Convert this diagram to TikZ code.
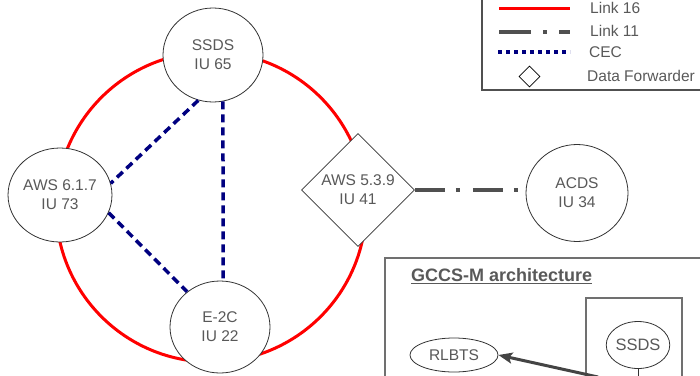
\documentclass[tikz,border=0pt]{standalone}
\usepackage{fontspec}
\setmainfont{Liberation Sans}
\usetikzlibrary{shapes.geometric,arrows.meta}
\definecolor{txt}{HTML}{595959}
\definecolor{edgec}{HTML}{333333}
\definecolor{boxc}{HTML}{707070}
\definecolor{navyc}{HTML}{000080}
\definecolor{lkc}{HTML}{505050}
\definecolor{arrc}{HTML}{444444}
\begin{document}
\begin{tikzpicture}[x=1pt,y=-1pt,
  font=\fontsize{15.5}{19}\selectfont,
  unit/.style={ellipse, draw=edgec, line width=0.8pt, fill=white, inner sep=0pt, align=center, text=txt},
  fwd/.style={diamond, draw=edgec, line width=0.8pt, fill=white, inner sep=0pt, aspect=1, align=center, text=txt},
  linksixteen/.style={red, line width=3pt},
  linkeleven/.style={lkc, line width=4.5pt, dash pattern=on 30pt off 11pt on 4pt off 13pt},
  cecline/.style={navyc, line width=3.5pt, dash pattern=on 8pt off 5pt},
  cecleg/.style={navyc, line width=4pt, dash pattern=on 4pt off 4pt},
  legtext/.style={anchor=west, text=txt, inner sep=0pt},
  framebox/.style={draw=boxc, line width=1.2pt},
  bigarrow/.style={arrc, line width=3pt, -{Stealth[length=14pt,width=11pt,inset=3pt]}}
]
\useasboundingbox (0,0) rectangle (700,375);

% Link 16 ring
\draw[linksixteen] (211,207) circle[radius=155pt];

% units
\node[unit, minimum width=100pt, minimum height=94pt] (ssds) at (213,55) {SSDS\\IU 65};
\node[unit, minimum width=99pt, minimum height=94pt] (aws617) at (60,195) {AWS 6.1.7\\IU 73};
\node[unit, minimum width=100pt, minimum height=92pt] (e2c) at (220,327) {E-2C\\IU 22};
\node[fwd, minimum width=113pt, minimum height=113pt] (aws539) at (358,190) {AWS 5.3.9\\IU 41};
\node[unit, minimum width=102pt, minimum height=97pt] (acds) at (577,193) {ACDS\\IU 34};

% CEC links
\draw[cecline] (ssds.252) -- (aws617.13);
\draw[cecline] (ssds.282) -- (e2c.86);
\draw[cecline] (aws617.340) -- (e2c.133);

% Link 11
\draw[linkeleven] (aws539.east) -- (aws539.east -| acds.west);

% Legend
\draw[framebox, draw=lkc] (482,-5) rectangle (712,90);
\coordinate (l16a) at (499,8);
\coordinate (l16b) at (570,8);
\draw[linksixteen] (l16a) -- (l16b);
\node[legtext] (l16t) at (590,8) {Link 16};
\coordinate (l11a) at (499,32);
\coordinate (l11b) at (570,32);
\draw[linkeleven, dash pattern=on 32pt off 12pt on 4pt off 12pt] (l11a) -- (l11b);
\node[legtext] (l11t) at (590,31) {Link 11};
\coordinate (ceca) at (498,52);
\coordinate (cecb) at (570,52);
\draw[cecleg] (ceca) -- (cecb);
\node[legtext] (cect) at (589,52) {CEC};
\node[diamond, draw=black, line width=0.8pt, minimum width=21pt, minimum height=21pt, inner sep=0pt, aspect=1] (legdia) at (529.5,76.5) {};
\node[legtext] (dft) at (587,75.5) {Data Forwarder};

% GCCS-M architecture inset
\draw[framebox] (385,258) rectangle (712,385);
\node[anchor=west, text=txt, inner sep=0pt, font=\fontsize{18}{20}\selectfont\bfseries] (title) at (411,276) {\underline{GCCS-M architecture}};
\draw[framebox] (586,298) rectangle (682,385);
\node[unit, minimum width=88pt, minimum height=34pt] (rlbts) at (454,355) {RLBTS};
\node[unit, minimum width=57pt, minimum height=47pt, font=\fontsize{16.5}{19}\selectfont] (issds) at (638,345) {SSDS};
\coordinate (issdsdown) at (638,385);
\draw[edgec, line width=0.8pt] (issds.south) -- (issdsdown);
\coordinate (arrs) at (598,377);
\draw[bigarrow] (arrs) -- (rlbts.east);
\end{tikzpicture}
\end{document}
